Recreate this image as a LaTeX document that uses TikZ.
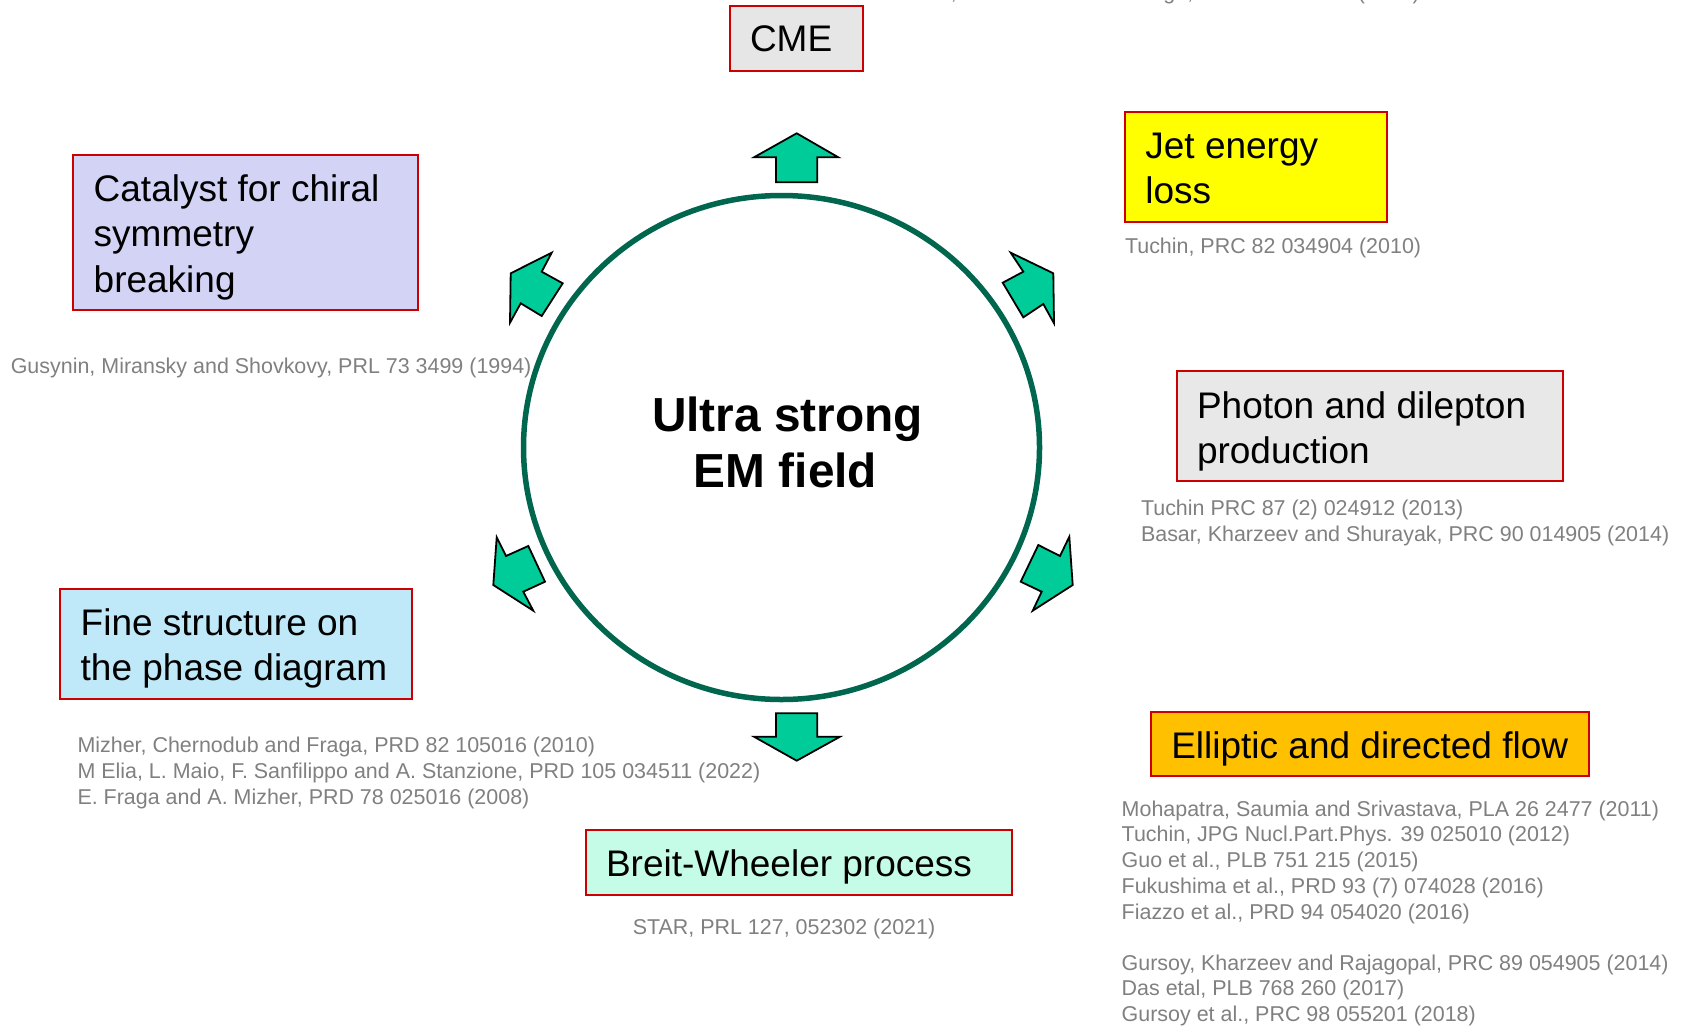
\documentclass[tikz,border=0pt]{standalone}
\usepackage{fontspec}
\setmainfont{Liberation Sans}
\usetikzlibrary{shapes.geometric}
\definecolor{boxred}{RGB}{204,0,0}
\definecolor{cmegray}{RGB}{230,230,230}
\definecolor{lavender}{RGB}{211,211,245}
\definecolor{jetyellow}{RGB}{255,255,0}
\definecolor{photongray}{RGB}{232,232,232}
\definecolor{finecyan}{RGB}{191,233,249}
\definecolor{flowor}{RGB}{255,192,0}
\definecolor{bwmint}{RGB}{196,252,232}
\definecolor{arrowgreen}{RGB}{0,204,153}
\definecolor{ringgreen}{RGB}{0,102,78}
\definecolor{refgray}{RGB}{128,128,128}
\begin{document}
\begin{tikzpicture}[x=1pt,y=-1pt,
  box/.style={draw=boxred, line width=2pt, inner sep=0pt, outer sep=0pt, anchor=north west},
  boxtxt/.style={anchor=base west, inner sep=0pt, outer sep=0pt, font=\fontsize{37}{45}\selectfont},
  bigtxt/.style={anchor=base, inner sep=0pt, outer sep=0pt, font=\fontsize{47.8}{56}\selectfont\bfseries},
  reftxt/.style={anchor=base west, inner sep=0pt, outer sep=0pt, text=refgray, font=\fontsize{21.45}{25.8}\selectfont},
  blockarrow/.style={fill=arrowgreen, draw=black, line width=1.8pt, line join=miter},
  ring/.style={draw=ringgreen, line width=5.5pt, ellipse, inner sep=0pt, outer sep=0pt}
]
\useasboundingbox (0,0) rectangle (1688,1025);

% central field
\node[ring, minimum width=516pt, minimum height=504pt] (field) at (781.5,447.5) {};
\node[bigtxt] (ultra1) at (787.5,431.5) {Ultra strong};
\node[bigtxt] (ultra2) at (785.5,487.4) {EM field};

% block arrows
\draw[blockarrow] (796.7,133.3) -- (838.3,157.3) -- (817.3,157.3) -- (817.3,182.3)
  -- (776,182.3) -- (776,157.3) -- (754,157.3) -- cycle;
\draw[blockarrow] (796.7,760.7) -- (840,736.7) -- (817.3,736.7) -- (817.3,713.3)
  -- (776,713.3) -- (776,736.7) -- (754,736.7) -- cycle;
\draw[blockarrow] (510.7,273.3) -- (551.7,252.7) -- (541.7,271.7) -- (562.7,283.3)
  -- (541.7,316) -- (520.7,303.3) -- (510,322.7) -- cycle;
\draw[blockarrow] (1053.3,273.3) -- (1010.7,252.7) -- (1023.3,271.7) -- (1002.7,282.7)
  -- (1023.3,317.3) -- (1043.3,304) -- (1054,323.3) -- cycle;
\draw[blockarrow] (493.3,585) -- (496.7,537.3) -- (506,556) -- (528.3,546)
  -- (545,581.7) -- (523.3,591.7) -- (533.3,610.7) -- cycle;
\draw[blockarrow] (1072.7,585) -- (1069.3,536.7) -- (1060,556) -- (1038.3,545)
  -- (1020.7,581.7) -- (1041.7,591.7) -- (1032.7,610.7) -- cycle;

% boxes
\node[box, fill=cmegray, minimum width=133pt, minimum height=64.5pt] (cme) at (730,6.5) {};
\node[boxtxt] (cmet) at (750,52) {CME};

\node[box, fill=lavender, minimum width=344.5pt, minimum height=155pt] (cat) at (73.2,155) {};
\node[boxtxt] (cat1) at (93.7,201.6) {Catalyst for chiral};
\node[boxtxt] (cat2) at (93.7,246.8) {symmetry};
\node[boxtxt] (cat3) at (93.7,292) {breaking};

\node[box, fill=jetyellow, minimum width=261.5pt, minimum height=110pt] (jet) at (1125,112) {};
\node[boxtxt] (jet1) at (1145.4,158.5) {Jet energy};
\node[boxtxt] (jet2) at (1145.4,203.7) {loss};

\node[box, fill=photongray, minimum width=386.4pt, minimum height=109.8pt] (pho) at (1176.6,371.4) {};
\node[boxtxt] (pho1) at (1197,418) {Photon and dilepton};
\node[boxtxt] (pho2) at (1197,463.2) {production};

\node[box, fill=finecyan, minimum width=352pt, minimum height=109.8pt] (fine) at (60.3,588.8) {};
\node[boxtxt] (fine1) at (80.7,635.4) {Fine structure on};
\node[boxtxt] (fine2) at (80.7,680.6) {the phase diagram};

\node[box, fill=flowor, minimum width=438.2pt, minimum height=64.6pt] (flow) at (1150.8,711.6) {};
\node[boxtxt] (flowt) at (1171.3,758.2) {Elliptic and directed flow};

\node[box, fill=bwmint, minimum width=426.3pt, minimum height=64.6pt] (bw) at (585.6,830) {};
\node[boxtxt] (bwt) at (606,876.6) {Breit-Wheeler process};

% references
\node[reftxt] (rcme) at (846,0) {Fukushima, Kharzeev and Warringa, PRD 78 074033 (2008)};
\node[reftxt] (rjet) at (1125,253) {Tuchin, PRC 82 034904 (2010)};
\node[reftxt] (rcat) at (10.8,373.5) {Gusynin, Miransky and Shovkovy, PRL 73 3499 (1994)};
\node[reftxt] (rpho1) at (1141,515.5) {Tuchin PRC 87 (2) 024912 (2013)};
\node[reftxt] (rpho2) at (1141,541.3) {Basar, Kharzeev and Shurayak, PRC 90 014905 (2014)};
\node[reftxt] (rfine1) at (77.5,752.5) {Mizher, Chernodub and Fraga, PRD 82 105016 (2010)};
\node[reftxt] (rfine2) at (77.5,778.3) {M Elia, L. Maio, F. Sanfilippo and A. Stanzione, PRD 105 034511 (2022)};
\node[reftxt] (rfine3) at (77.5,804.1) {E. Fraga and A. Mizher, PRD 78 025016 (2008)};
\node[reftxt, anchor=base] (rbw) at (784,934.5) {STAR, PRL 127, 052302 (2021)};
\node[reftxt] (rf1) at (1121.7,816) {Mohapatra, Saumia and Srivastava, PLA 26 2477 (2011)};
\node[reftxt] (rf2) at (1121.7,841.8) {Tuchin, JPG Nucl.Part.Phys. 39 025010 (2012)};
\node[reftxt] (rf3) at (1121.7,867.6) {Guo et al., PLB 751 215 (2015)};
\node[reftxt] (rf4) at (1121.7,893.4) {Fukushima et al., PRD 93 (7) 074028 (2016)};
\node[reftxt] (rf5) at (1121.7,919.2) {Fiazzo et al., PRD 94 054020 (2016)};
\node[reftxt] (rf6) at (1121.7,970) {Gursoy, Kharzeev and Rajagopal, PRC 89 054905 (2014)};
\node[reftxt] (rf7) at (1121.7,995.8) {Das etal, PLB 768 260 (2017)};
\node[reftxt] (rf8) at (1121.7,1021.6) {Gursoy et al., PRC 98 055201 (2018)};
\end{tikzpicture}
\end{document}
